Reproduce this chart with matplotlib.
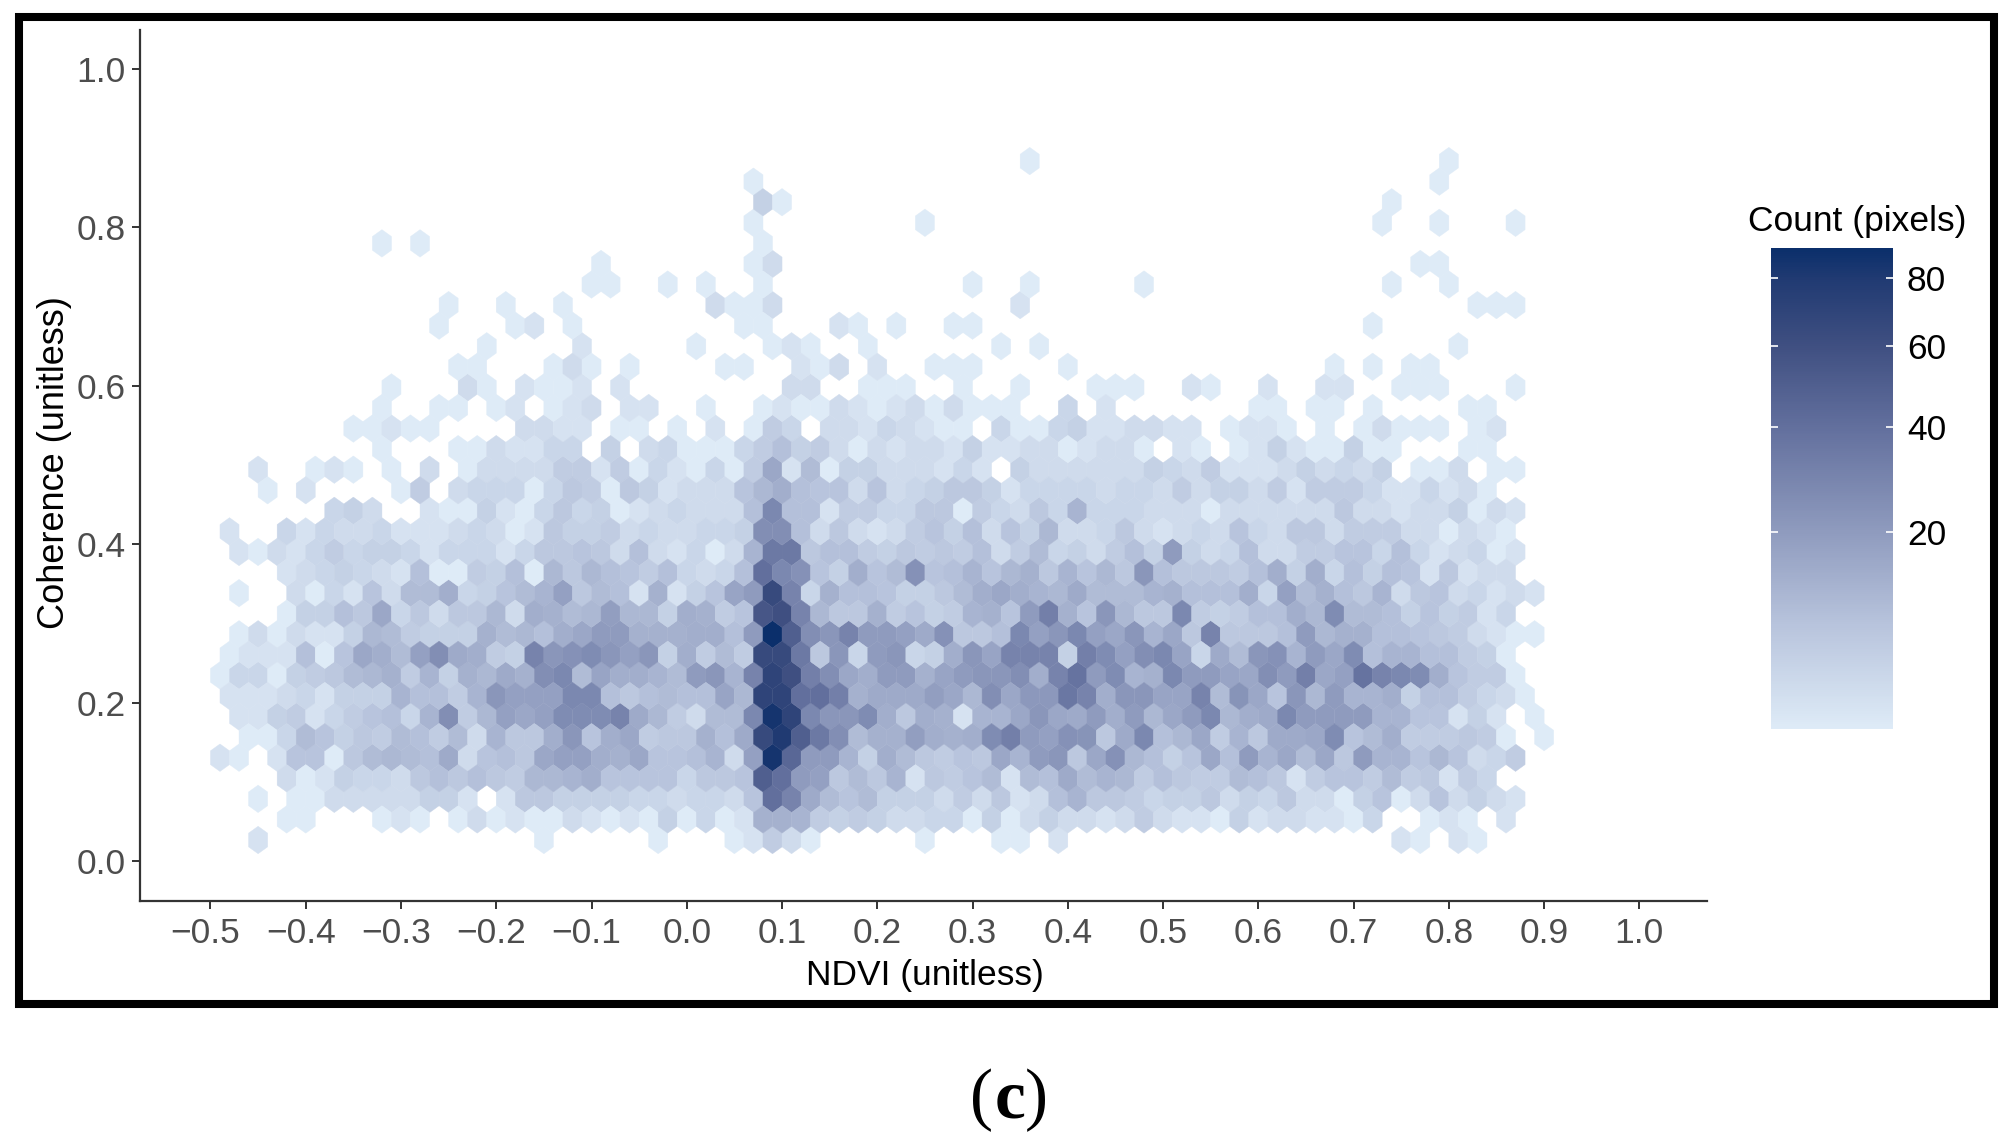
import numpy as np
import matplotlib
matplotlib.use('Agg')
import matplotlib.pyplot as plt
from matplotlib.colors import LinearSegmentedColormap, FuncNorm
from matplotlib.patches import Rectangle
from matplotlib.transforms import ScaledTranslation

plt.rcParams['font.family'] = ['Liberation Sans', 'DejaVu Sans']

# counts, one list per hexagon row (bottom row first)
# even rows start at NDVI -0.49, odd rows at -0.50, one entry per 0.02
row_00 = [0,0,2,0,0,0,0,0,0,0,0,0,0,0,0,0,0,1,0,0,0,0,0,1,0,0,0,1,2,6,3,1,0,0,0,0,0,1,0,0,0,1,1,0,2,0,0,0,0,0,0,0,0,0,0,0,0,0,0,0,0,0,2,1,0,2,1]
row_01 = [0,0,0,0,1,1,0,0,0,1,2,1,0,1,3,1,2,1,1,3,2,1,2,1,5,1,4,1,2,13,13,12,6,5,6,5,3,3,4,4,1,5,1,3,5,3,3,2,3,6,3,2,2,1,5,2,3,3,2,2,1,4,0,0,1,2,1,0,2]
row_02 = [0,0,1,0,1,1,3,3,3,3,3,5,5,2,0,2,7,7,5,5,5,5,4,4,3,4,4,3,8,40,30,15,10,8,10,5,5,5,3,6,3,7,2,3,9,12,7,7,6,4,5,5,7,3,5,4,7,3,3,1,5,8,1,3,8,3,5,3,2]
row_03 = [0,0,0,0,3,1,2,5,4,4,3,7,9,7,9,7,6,11,11,12,14,8,8,8,8,4,7,7,8,50,40,20,18,7,10,7,12,2,7,6,8,10,2,10,9,15,10,12,11,6,9,7,6,6,10,9,7,2,6,8,8,6,10,6,7,2,6,4]
row_04 = [2,1,0,2,8,8,1,7,10,11,10,9,15,3,8,9,7,16,18,18,14,13,16,8,8,9,12,3,18,85,45,20,20,12,5,14,10,7,6,8,7,16,12,20,22,7,16,24,11,9,5,8,16,9,20,12,16,10,16,7,20,12,12,8,11,8,3,4,6]
row_05 = [0,0,1,1,4,10,8,5,7,6,10,9,6,10,3,12,7,7,14,22,8,14,16,6,7,7,13,9,15,65,80,50,35,25,10,13,13,19,14,13,14,26,32,20,18,24,23,7,15,28,9,11,16,6,12,7,15,15,16,26,8,10,14,6,6,6,7,6,1,0,1]
row_06 = [0,2,2,5,6,2,4,6,8,9,4,12,25,6,11,18,16,18,26,26,26,30,15,11,6,3,10,10,28,85,70,28,22,22,26,14,7,14,13,2,12,12,16,22,16,15,20,14,20,11,16,20,28,11,14,15,28,20,20,20,20,12,12,8,8,2,5,2,0,1]
row_07 = [0,2,2,2,3,4,2,5,5,5,12,9,9,6,12,22,18,18,18,28,28,9,7,9,10,9,9,17,11,70,70,40,40,32,13,15,15,15,19,16,11,25,16,21,21,36,30,14,22,22,17,17,30,10,23,16,8,22,11,20,12,12,14,5,9,9,6,4,3,1]
row_08 = [1,4,4,1,5,6,7,10,11,13,6,12,5,13,11,15,13,25,28,10,17,14,14,12,10,20,22,12,30,70,60,32,25,16,14,20,20,13,17,20,22,22,25,14,30,38,20,26,12,13,28,20,20,17,16,25,20,32,16,18,38,30,28,26,14,8,6,6,1]
row_09 = [0,1,2,2,2,9,1,8,16,14,10,18,25,15,14,6,5,30,22,24,26,22,18,22,5,14,6,10,6,65,65,35,7,22,4,20,22,4,5,14,22,17,30,30,30,5,32,26,18,25,28,17,4,15,10,22,24,12,20,16,26,9,12,12,9,9,6,5,1]
row_10 = [0,1,3,1,3,2,2,5,11,10,6,5,5,5,13,10,11,9,14,16,20,20,13,13,13,14,14,9,20,90,50,25,22,30,20,20,18,15,24,7,7,9,28,18,22,28,18,16,22,12,16,7,30,7,7,7,9,20,11,13,13,9,9,8,7,6,3,2,1,1]
row_11 = [0,0,0,0,1,5,5,9,7,16,4,7,3,7,7,11,3,14,13,10,11,19,11,11,5,14,13,6,8,55,60,30,11,7,7,13,6,8,5,6,12,13,8,20,32,13,8,22,11,7,7,28,6,5,6,9,9,14,11,26,10,10,9,5,8,5,6,2,4]
row_12 = [0,1,0,0,3,1,4,2,8,3,10,10,14,4,5,8,10,12,18,7,10,9,2,13,2,5,8,17,20,65,30,4,13,9,9,8,5,5,7,10,14,16,14,12,11,15,10,10,10,12,13,9,9,9,14,4,18,10,13,9,7,12,3,7,8,3,4,2,3,2]
row_13 = [0,0,0,0,2,3,4,5,4,3,2,9,1,1,6,5,9,1,11,7,11,9,8,6,9,4,3,4,9,40,28,24,8,5,14,8,10,24,8,9,12,8,11,13,7,12,8,11,7,22,9,7,7,7,6,9,14,5,14,4,9,5,9,8,2,7,2,3,3]
row_14 = [0,2,1,3,2,4,6,4,5,5,4,2,4,4,4,2,4,7,7,8,7,3,9,3,2,4,1,3,12,35,35,7,9,9,6,5,7,6,7,6,9,3,6,10,4,5,3,6,9,5,20,5,3,4,9,3,3,6,6,8,8,4,9,4,2,3,4,1,2]
row_15 = [0,2,0,0,4,2,4,3,3,4,2,2,2,3,4,3,1,2,7,5,5,6,3,4,3,3,4,4,5,25,25,9,3,7,3,2,3,6,8,5,9,3,8,5,11,3,3,4,7,3,2,3,4,3,8,4,3,7,7,3,6,6,6,3,3,1,3,2,1]
row_16 = [0,0,0,0,0,0,4,5,3,0,0,2,1,1,5,2,1,4,7,4,5,1,2,3,4,3,3,3,9,28,9,9,2,6,6,4,4,7,7,1,6,4,3,7,4,12,4,4,4,3,3,3,1,3,3,3,3,3,3,7,3,3,2,3,3,5,1,3,2]
row_17 = [0,0,0,1,0,2,0,0,0,0,1,6,0,3,4,4,4,1,4,7,6,1,7,5,2,3,3,3,8,11,14,9,8,8,3,8,3,4,5,7,7,5,2,4,4,4,4,3,4,4,3,6,3,5,5,3,6,2,6,6,6,4,2,2,4,2,3,1]
row_18 = [0,0,2,0,0,1,2,1,0,1,0,3,0,1,3,3,3,3,6,6,2,6,1,4,2,1,4,1,6,16,2,10,1,5,5,3,3,3,2,4,2,0,5,3,3,3,3,3,3,5,4,3,6,2,2,2,3,5,3,4,3,5,0,1,1,3,0,1,1]
row_19 = [0,0,0,0,0,0,0,0,0,1,0,0,0,1,1,3,2,2,4,4,0,5,0,3,4,1,1,1,4,6,9,5,6,3,1,3,2,3,3,2,5,2,2,3,3,1,2,3,3,1,0,2,1,0,1,2,5,2,1,1,5,1,1,0,0,0,1,1]
row_20 = [0,0,0,0,0,0,0,1,1,2,1,1,0,0,0,0,3,3,2,2,0,1,1,0,1,0,2,0,1,6,4,0,3,3,2,4,3,2,1,1,0,4,1,1,4,5,2,2,3,3,2,2,0,1,2,2,1,0,1,0,1,3,1,1,1,0,1,2]
row_21 = [0,0,0,0,0,0,0,0,0,1,0,0,1,1,0,1,2,0,1,2,3,0,2,2,0,0,1,0,0,1,2,1,1,3,2,1,2,3,1,3,1,1,1,0,0,4,0,2,0,0,0,0,0,0,0,1,1,0,1,1,0,1,0,0,0,0,1,1]
row_22 = [0,0,0,0,0,0,0,0,0,1,0,0,0,3,1,0,2,1,1,2,0,2,0,0,0,0,0,0,0,0,3,3,0,0,1,1,1,0,0,1,0,0,1,0,0,0,1,1,1,0,0,2,1,0,0,2,0,0,2,2,0,0,1,1,1,0,0,0,1]
row_23 = [0,0,0,0,0,0,0,0,0,0,0,0,0,1,1,0,0,0,1,3,1,0,1,0,0,0,0,1,1,0,0,2,1,3,0,2,0,0,1,1,1,0,0,0,0,1,0,0,0,0,0,0,0,0,0,0,0,0,0,1,0,1,0,1,1]
row_24 = [0,0,0,0,0,0,0,0,0,0,0,0,0,0,1,0,0,0,0,2,0,0,0,0,0,1,0,0,0,1,2,1,0,0,1,0,0,0,0,0,0,1,0,1,0,0,0,0,0,0,0,0,0,0,0,0,0,0,0,0,0,0,0,0,0,1]
row_25 = [0,0,0,0,0,0,0,0,0,0,0,0,1,0,0,0,1,2,0,1,0,0,0,0,0,0,0,0,1,1,0,0,0,2,1,0,1,0,0,1,1,0,0,0,0,0,0,0,0,0,0,0,0,0,0,0,0,0,0,0,0,1]
row_26 = [0,0,0,0,0,0,0,0,0,0,0,0,1,0,0,1,0,0,1,0,0,0,0,0,0,0,3,1,1,3,0,0,0,0,0,0,0,0,0,0,0,0,2,0,0,0,0,0,0,0,0,0,0,0,0,0,0,0,0,0,0,0,0,0,0,0,1,1,1]
row_27 = [0,0,0,0,0,0,0,0,0,0,0,0,0,0,0,0,0,0,0,0,1,1,0,0,1,0,1,0,0,1,0,0,0,0,0,0,0,0,0,0,1,0,0,1,0,0,0,0,0,1,0,0,0,0,0,0,0,0,0,0,0,0,1,0,0,1]
row_28 = [0,0,0,0,0,0,0,0,0,0,0,0,0,0,0,0,0,0,0,0,1,0,0,0,0,0,0,0,1,3,0,0,0,0,0,0,0,0,0,0,0,0,0,0,0,0,0,0,0,0,0,0,0,0,0,0,0,0,0,0,0,0,0,1,1]
row_29 = [0,0,0,0,0,0,0,0,0,1,0,1,0,0,0,0,0,0,0,0,0,0,0,0,0,0,0,0,0,1]
row_30 = [0,0,0,0,0,0,0,0,0,0,0,0,0,0,0,0,0,0,0,0,0,0,0,0,0,0,0,0,1,0,0,0,0,0,0,0,0,1,0,0,0,0,0,0,0,0,0,0,0,0,0,0,0,0,0,0,0,0,0,0,0,1,0,0,1,0,0,0,1]
row_31 = [0,0,0,0,0,0,0,0,0,0,0,0,0,0,0,0,0,0,0,0,0,0,0,0,0,0,0,0,0,5,1,0,0,0,0,0,0,0,0,0,0,0,0,0,0,0,0,0,0,0,0,0,0,0,0,0,0,0,0,0,0,0,1]
row_32 = [0,0,0,0,0,0,0,0,0,0,0,0,0,0,0,0,0,0,0,0,0,0,0,0,0,0,0,0,1,0,0,0,0,0,0,0,0,0,0,0,0,0,0,0,0,0,0,0,0,0,0,0,0,0,0,0,0,0,0,0,0,0,0,0,1]
row_33 = [0,0,0,0,0,0,0,0,0,0,0,0,0,0,0,0,0,0,0,0,0,0,0,0,0,0,0,0,0,0,0,0,0,0,0,0,0,0,0,0,0,0,0,1,0,0,0,0,0,0,0,0,0,0,0,0,0,0,0,0,0,0,0,0,0,1]

rows = [row_00,row_01,row_02,row_03,row_04,row_05,row_06,row_07,row_08,row_09,row_10,row_11,
        row_12,row_13,row_14,row_15,row_16,row_17,row_18,row_19,row_20,row_21,row_22,row_23,
        row_24,row_25,row_26,row_27,row_28,row_29,row_30,row_31,row_32,row_33]

xticks = [-0.5,-0.4,-0.3,-0.2,-0.1,0.0,0.1,0.2,0.3,0.4,0.5,0.6,0.7,0.8,0.9,1.0]
yticks = [0.0,0.2,0.4,0.6,0.8,1.0]
cbar_ticks = [20,40,60,80]

W, H = 2012, 1141
fig = plt.figure(figsize=(W/100, H/100), dpi=100, facecolor='white')
ax = fig.add_axes([139.5/W, 1-901/H, (1707-139.5)/W, (901-30)/H])

# bin centres
dx, dy = 0.02, 0.02597
y0 = 0.0265
xs, ys, cs = [], [], []
for r, row in enumerate(rows):
    x0 = -0.49 if r % 2 == 0 else -0.50
    for i, c in enumerate(row):
        if c > 0:
            xs.append(x0 + dx*i)
            ys.append(y0 + dy*r)
            cs.append(c)

cmap = LinearSegmentedColormap.from_list('counts', [
    (0.0, '#DEEBF7'), (0.22, '#B7C3DC'), (0.41, '#8F9BBE'), (0.63, '#626F9D'),
    (0.80, '#3F4F81'), (0.94, '#203A72'), (1.0, '#0B2F6B')])
# the legend is on a square root scale
norm = FuncNorm((np.sqrt, np.square), vmin=1, vmax=89.5)

hb = ax.hexbin(xs, ys, C=cs, reduce_C_function=np.sum,
               gridsize=(72, 17), extent=(-0.51, -0.51+72*dx, y0, y0+17*2*dy),
               cmap=cmap, norm=norm, edgecolors='face', linewidths=0.3)

ax.set_xlim(-0.5745, 1.071)
ax.set_ylim(-0.0505, 1.049)
ax.spines['top'].set_visible(False)
ax.spines['right'].set_visible(False)
for s in ['left', 'bottom']:
    ax.spines[s].set_linewidth(1.6)
    ax.spines[s].set_color('#333333')

ax.set_xticks(xticks)
ax.set_xticklabels([f'{v:.1f}'.replace('-', '\u2212') for v in xticks])
ax.set_yticks(yticks)
ax.set_yticklabels([f'{v:.1f}' for v in yticks])
ax.tick_params(axis='both', labelsize=25.5, labelcolor='#4D4D4D', color='#333333',
               width=1.4, length=5.5)
ax.tick_params(axis='x', pad=6)
ax.tick_params(axis='y', pad=4.5)

# negative labels sit a little left of their ticks
shift = ScaledTranslation(-5/100, 0, fig.dpi_scale_trans)
for lab, v in zip(ax.get_xticklabels(), xticks):
    if v < 0:
        lab.set_transform(lab.get_transform() + shift)

fig.text(925/W, 1-976/H, 'NDVI (unitless)', fontsize=25.5, ha='center', va='center')
fig.text(55/W, 1-463/H, 'Coherence (unitless)', fontsize=26, rotation=90, ha='center', va='center')

# legend
cax = fig.add_axes([1771/W, 1-729.4/H, (1893-1771)/W, (729.4-248.4)/H])
cb = fig.colorbar(hb, cax=cax, ticks=cbar_ticks)
cb.outline.set_visible(False)
cax.tick_params(left=True, right=True, direction='in', length=5, width=1.2,
                color='white', labelcolor='black', labelsize=25.5, pad=10)
cax.minorticks_off()
fig.text(1857/W, 1-222/H, 'Count (pixels)', fontsize=25.5, ha='center', va='center')

# frame around the panel
fig.add_artist(Rectangle((19/W, 1-1004/H), (1994-19)/W, (1004-17)/H, transform=fig.transFigure,
                         fill=False, edgecolor='black', linewidth=5.8))

# panel letter: thin brackets, bold c
serif = ['Liberation Serif', 'DejaVu Serif']
fig.text(982/W, 1-1117/H, '(', fontsize=50, family=serif, ha='center', va='baseline')
fig.text(1010/W, 1-1117/H, 'c', fontsize=50, fontweight='bold', family=serif, ha='center', va='baseline')
fig.text(1036/W, 1-1117/H, ')', fontsize=50, family=serif, ha='center', va='baseline')

fig.savefig('out.png', dpi=100)
